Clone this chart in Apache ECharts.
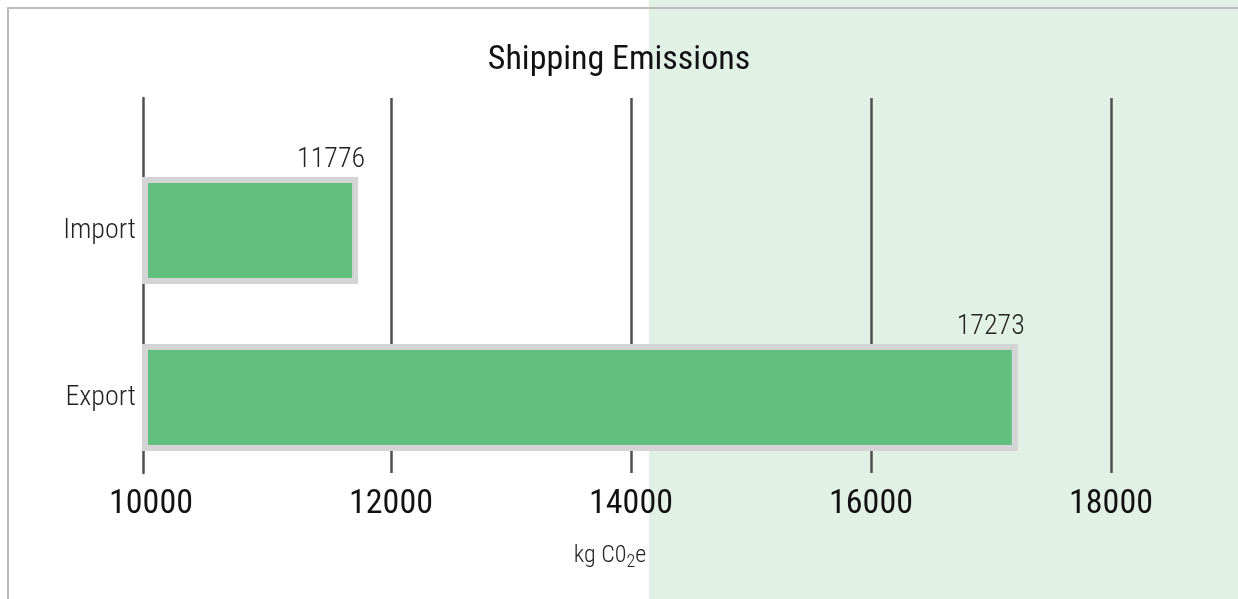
<!DOCTYPE html>
<html>
<head>
    <meta charset="utf-8">
    <script src="https://cdn.jsdelivr.net/npm/echarts@6/dist/echarts.min.js"></script>
</head>
<body style="margin:0;">
    <div id="main" style="width:1238px;height:599px;"></div>
    <script type="text/javascript">
        // data
        var categories = ['Import', 'Export'];
        var emissions = [11776, 17273];
        var xTicks = [10000, 12000, 14000, 16000, 18000];

        var FONT = "'Roboto Condensed', 'Liberation Sans Narrow', 'DejaVu Sans Condensed', Roboto, sans-serif";
        var xMin = xTicks[0], xMax = xTicks[xTicks.length - 1];
        var step = xTicks[1] - xTicks[0];

        var myChart = echarts.init(document.getElementById('main'));
        var option = {
            animation: false,
            textStyle: {fontFamily: FONT},
            title: {
                text: 'Shipping Emissions',
                left: 'center',
                top: 38,
                textStyle: {fontFamily: FONT, fontSize: 34, fontWeight: 'normal', color: '#111'}
            },
            graphic: [
                {type: 'rect', z: -10, shape: {x: 649, y: 0, width: 700, height: 700},
                    style: {fill: '#e1f1e6'}},
                {type: 'rect', z: -9, shape: {x: 8, y: 8, width: 1300, height: 700},
                    style: {fill: null, stroke: '#bcbcbc', lineWidth: 2}}
            ],
            grid: [
                {left: 151, right: 127, top: 98, height: 375},
                {left: 145, right: 133, top: 147, height: 334}
            ],
            xAxis: [
                {
                    type: 'value',
                    gridIndex: 0,
                    min: xMin,
                    max: xMax,
                    interval: step,
                    axisLine: {show: false},
                    axisTick: {show: false},
                    axisLabel: {
                        fontSize: 34, color: '#111', margin: 14, fontFamily: FONT,
                        formatter: function (v) { return String(v); }
                    },
                    splitLine: {show: true, showMinLine: false, lineStyle: {color: '#4f4f4f', width: 2.5}},
                    name: 'kg C0{sub|2}e',
                    nameLocation: 'middle',
                    nameGap: 68,
                    nameTextStyle: {
                        fontSize: 24, fontWeight: 300, color: '#222', fontFamily: FONT,
                        padding: [0, 42, 0, 0],
                        rich: {sub: {fontSize: 18, fontWeight: 300, color: '#222', verticalAlign: 'bottom', padding: [12, 0, 0, 0]}}
                    }
                },
                {
                    type: 'value',
                    gridIndex: 1,
                    min: xMin,
                    max: xMax,
                    interval: step,
                    show: false,
                    splitLine: {show: false}
                }
            ],
            yAxis: [
                {
                    type: 'value',
                    gridIndex: 0,
                    min: 0,
                    max: 1,
                    offset: 8,
                    axisLine: {show: true, lineStyle: {color: '#4f4f4f', width: 2.5}},
                    axisTick: {show: false},
                    axisLabel: {show: false},
                    splitLine: {show: false}
                },
                {
                    type: 'category',
                    gridIndex: 1,
                    data: categories,
                    inverse: true,
                    axisLine: {show: false},
                    axisTick: {show: false},
                    axisLabel: {fontSize: 28, fontWeight: 300, color: '#222', margin: 9, fontFamily: FONT}
                }
            ],
            series: [
                {
                    type: 'bar',
                    xAxisIndex: 1,
                    yAxisIndex: 1,
                    data: emissions,
                    barWidth: 107,
                    silent: true,
                    itemStyle: {color: '#61bf80', borderColor: '#d4d4d4', borderWidth: 6},
                    label: {
                        show: true,
                        position: ['100%', 0],
                        align: 'right',
                        verticalAlign: 'bottom',
                        offset: [7, -3],
                        fontSize: 28,
                        fontWeight: 300,
                        color: '#222',
                        fontFamily: FONT
                    }
                }
            ]
        };
        myChart.setOption(option);
    </script>
</body>
</html>
